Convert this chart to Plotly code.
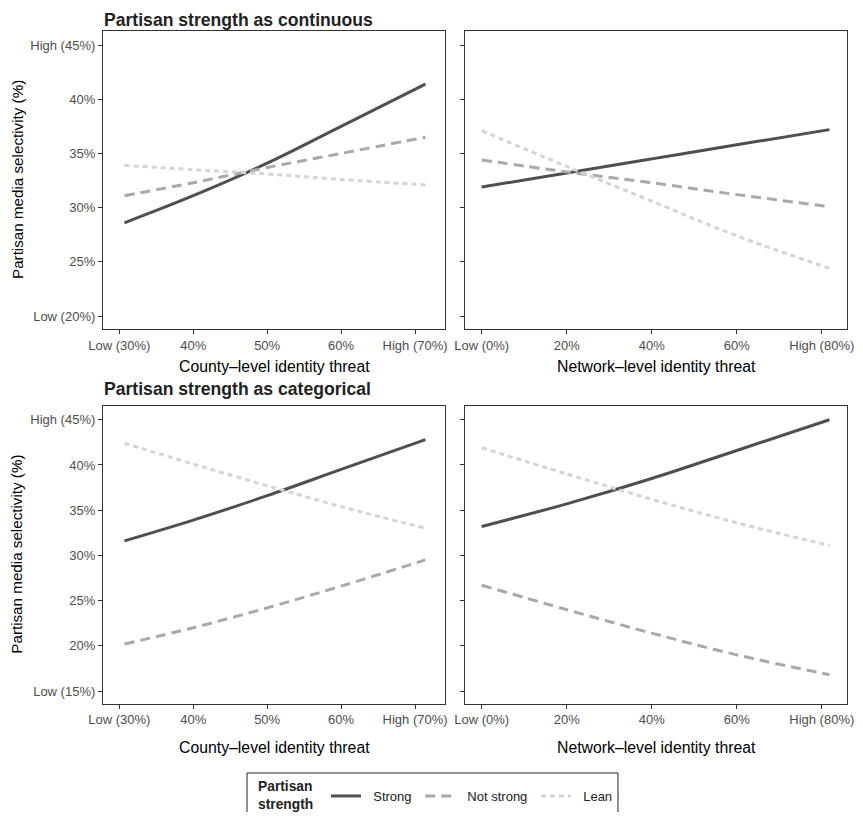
import plotly.graph_objects as go

# ---------------- data ----------------
x_county = [30.7, 40, 50, 60, 71.4]
x_network = [0, 20, 40, 60, 81.8]

cont_county_strong = [28.6, 31.1, 34.1, 37.5, 41.4]
cont_county_notstrong = [31.1, 32.3, 33.7, 35.0, 36.5]
cont_county_lean = [33.9, 33.5, 33.1, 32.6, 32.1]
cont_network_strong = [31.9, 33.2, 34.5, 35.8, 37.2]
cont_network_notstrong = [34.4, 33.3, 32.3, 31.2, 30.1]
cont_network_lean = [37.1, 33.8, 30.6, 27.4, 24.4]

cat_county_strong = [31.6, 33.9, 36.6, 39.5, 42.8]
cat_county_notstrong = [20.2, 22.0, 24.2, 26.6, 29.5]
cat_county_lean = [42.4, 40.1, 37.7, 35.4, 33.0]
cat_network_strong = [33.2, 35.7, 38.5, 41.6, 45.0]
cat_network_notstrong = [26.7, 24.0, 21.4, 19.0, 16.8]
cat_network_lean = [41.9, 39.0, 36.2, 33.6, 31.1]

series_names = ["Strong", "Not strong", "Lean"]

county_ticks = [30, 40, 50, 60, 70]
county_labels = ["Low (30%)", "40%", "50%", "60%", "High (70%)"]
network_ticks = [0, 20, 40, 60, 80]
network_labels = ["Low (0%)", "20%", "40%", "60%", "High (80%)"]
cont_yticks = [20, 25, 30, 35, 40, 45]
cont_ylabels = ["Low (20%)", "25%", "30%", "35%", "40%", "High (45%)"]
cat_yticks = [15, 20, 25, 30, 35, 40, 45]
cat_ylabels = ["Low (15%)", "20%", "25%", "30%", "35%", "40%", "High (45%)"]

# ---------------- styles ----------------
# the page body has an 8px default margin, so the figure is sized to fit the window
OFF = 8
W, H = 863 - 2 * OFF, 820 - 2 * OFF
FONT = "Liberation Sans, Arial, Helvetica, sans-serif"
NB = "\u00a0"
styles = {
    "Strong": dict(color="#4f4f4f", dash="solid"),
    "Not strong": dict(color="#a9a9a9", dash="10px,6px"),
    "Lean": dict(color="#d4d4d4", dash="5px,4px"),
}

fig = go.Figure()

panels = [
    ("x", "y", x_county, [cont_county_strong, cont_county_notstrong, cont_county_lean], True),
    ("x2", "y2", x_network, [cont_network_strong, cont_network_notstrong, cont_network_lean], False),
    ("x3", "y3", x_county, [cat_county_strong, cat_county_notstrong, cat_county_lean], False),
    ("x4", "y4", x_network, [cat_network_strong, cat_network_notstrong, cat_network_lean], False),
]

for xa, ya, xs, ylist, show in panels:
    for name, ys in zip(series_names, ylist):
        st = styles[name]
        fig.add_trace(go.Scatter(
            x=xs, y=ys, mode="lines", name=NB + NB + name + NB, xaxis=xa, yaxis=ya,
            line=dict(color=st["color"], dash=st["dash"], width=3, shape="spline", smoothing=1.0),
            showlegend=show, legendgroup=name, hoverinfo="skip",
        ))

def px_x(v):
    return (v - OFF) / W

def px_y(v):
    return 1 - (v - OFF) / H

xl = [px_x(103), px_x(445)]
xr = [px_x(464.7), px_x(847.3)]
yt = [px_y(329), px_y(31)]
yb = [px_y(703.7), px_y(405.7)]

axis_common = dict(
    showline=True, mirror=True, linecolor="#333333", linewidth=1.2,
    ticks="outside", ticklen=4, tickwidth=1, tickcolor="#333333",
    showgrid=False, zeroline=False, automargin=False,
    tickfont=dict(family=FONT, size=13, color="#4d4d4d"),
)

fig.update_layout(
    width=W, height=H,
    margin=dict(l=0, r=0, t=0, b=0),
    paper_bgcolor="white", plot_bgcolor="white",
    font=dict(family=FONT, color="black"),
    xaxis=dict(domain=xl, range=[27.8, 74.05], tickvals=county_ticks, ticktext=county_labels, anchor="y", **axis_common),
    yaxis=dict(domain=yt, range=[18.8, 46.3], tickvals=cont_yticks, ticktext=cont_ylabels, anchor="x", **axis_common),
    xaxis2=dict(domain=xr, range=[-4.0, 86.0], tickvals=network_ticks, ticktext=network_labels, anchor="y2", **axis_common),
    yaxis2=dict(domain=yt, range=[18.8, 46.3], tickvals=cont_yticks, showticklabels=False, anchor="x2", **axis_common),
    xaxis3=dict(domain=xl, range=[27.8, 74.05], tickvals=county_ticks, ticktext=county_labels, anchor="y3", **axis_common),
    yaxis3=dict(domain=yb, range=[13.6, 46.55], tickvals=cat_yticks, ticktext=cat_ylabels, anchor="x3", **axis_common),
    xaxis4=dict(domain=xr, range=[-4.0, 86.0], tickvals=network_ticks, ticktext=network_labels, anchor="y4", **axis_common),
    yaxis4=dict(domain=yb, range=[13.6, 46.55], tickvals=cat_yticks, showticklabels=False, anchor="x4", **axis_common),
    legend=dict(
        orientation="h", x=px_x(326), xanchor="left", y=px_y(796), yanchor="middle",
        borderwidth=0, bgcolor="rgba(0,0,0,0)",
        font=dict(family=FONT, size=13, color="#222222"),
        itemwidth=30, tracegroupgap=0,
    ),
    shapes=[dict(type="rect", xref="paper", yref="paper",
                 x0=px_x(247), x1=px_x(618), y0=px_y(835), y1=px_y(773),
                 line=dict(color="#222222", width=1), fillcolor="rgba(0,0,0,0)", layer="below")],
)

annotations = [
    dict(text="<b>Partisan strength as continuous</b>", x=px_x(102), y=1.0, xanchor="left", yanchor="top",
         font=dict(size=17.6, color="#222222")),
    dict(text="<b>Partisan strength as categorical</b>", x=px_x(102), y=px_y(389), xanchor="left", yanchor="middle",
         font=dict(size=17.6, color="#222222")),
    dict(text="County\u2013level identity threat", x=(xl[0] + xl[1]) / 2, y=px_y(366), xanchor="center", yanchor="middle",
         font=dict(size=15.8)),
    dict(text="Network\u2013level identity threat", x=(xr[0] + xr[1]) / 2, y=px_y(366), xanchor="center", yanchor="middle",
         font=dict(size=15.8)),
    dict(text="County\u2013level identity threat", x=(xl[0] + xl[1]) / 2, y=px_y(747), xanchor="center", yanchor="middle",
         font=dict(size=15.8)),
    dict(text="Network\u2013level identity threat", x=(xr[0] + xr[1]) / 2, y=px_y(747), xanchor="center", yanchor="middle",
         font=dict(size=15.8)),
    dict(text="Partisan media selectivity (%)", x=px_x(17), y=(yt[0] + yt[1]) / 2, xanchor="center", yanchor="middle",
         textangle=-90, font=dict(size=15.2)),
    dict(text="Partisan media selectivity (%)", x=px_x(17), y=(yb[0] + yb[1]) / 2, xanchor="center", yanchor="middle",
         textangle=-90, font=dict(size=15.2)),
    dict(text="<b>Partisan<br>strength</b>", x=px_x(256), y=px_y(795), xanchor="left", yanchor="middle", align="left",
         font=dict(size=13.8, color="#222222")),
]
for a in annotations:
    a.update(xref="paper", yref="paper", showarrow=False)
    a["font"]["family"] = FONT
fig.update_layout(annotations=annotations)

fig.write_html("out.html")
